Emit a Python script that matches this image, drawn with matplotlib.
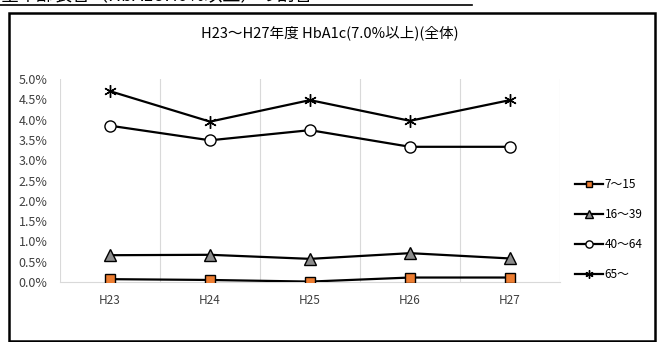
import numpy as np
import matplotlib.pyplot as plt
from matplotlib.patches import Rectangle
from matplotlib.ticker import PercentFormatter

plt.rcParams['font.family'] = ['Noto Sans CJK JP', 'DejaVu Sans']

# HbA1c 7.0%以上の割合（年齢階級別）
years = ["H23", "H24", "H25", "H26", "H27"]
age_7_15 = [0.0007, 0.0005, 0.0001, 0.0011, 0.0011]
age_16_39 = [0.0066, 0.0067, 0.0057, 0.0071, 0.0058]
age_40_64 = [0.0385, 0.0349, 0.0374, 0.0333, 0.0333]
age_65 = [0.0470, 0.0395, 0.0448, 0.0397, 0.0448]

title = "H23～H27年度 HbA1c(7.0%以上)(全体)"
heading = "全年齢表合（HbA1c7.0%以上）の割合"

fig = plt.figure(figsize=(6.65, 3.42), dpi=100)

# heading above the chart box, cut off by the top edge
fig.text(0.0, 1.012, heading, fontsize=13, ha='left', va='center', color='black')
fig.add_artist(plt.Line2D([0, 0.71], [0.984, 0.984], transform=fig.transFigure,
                          color='black', lw=1.2))

# chart box
fig.add_artist(Rectangle((9 / 665, 1 / 342), 646 / 665, 328 / 342,
                         transform=fig.transFigure, fill=False,
                         edgecolor='black', lw=1.8))

fig.text(330 / 665, 1 - 33 / 342, title, fontsize=10.5, ha='center', va='center')

ax = fig.add_axes([60 / 665, 1 - 282 / 342, 500 / 665, 203 / 342])
x = np.arange(len(years))

ax.plot(x, age_7_15, color='black', lw=1.6, marker='s', markersize=7,
        markerfacecolor='#ED7D31', markeredgecolor='black', markeredgewidth=1.0,
        label='7～15', zorder=5)
ax.plot(x, age_16_39, color='black', lw=1.6, marker='^', markersize=8,
        markerfacecolor='#8C8C8C', markeredgecolor='black', markeredgewidth=1.0,
        label='16～39', zorder=5)
ax.plot(x, age_40_64, color='black', lw=1.6, marker='o', markersize=8,
        markerfacecolor='white', markeredgecolor='black', markeredgewidth=1.0,
        label='40～64', zorder=5)
ax.plot(x, age_65, color='black', lw=1.6, marker=(6, 2, 0), markersize=9,
        markeredgecolor='black', markeredgewidth=1.0,
        label='65～', zorder=5)

ax.set_xlim(-0.5, len(years) - 0.5)
ax.set_ylim(0, 0.05)
ax.set_yticks(np.arange(0, 0.0501, 0.005))
ax.yaxis.set_major_formatter(PercentFormatter(1.0, decimals=1))
ax.set_xticks(x)
ax.set_xticklabels(years)

for b in np.arange(-0.5, len(years), 1.0):
    ax.axvline(b, color='#D9D9D9', lw=0.8, zorder=1)

for s in ['top', 'left', 'right']:
    ax.spines[s].set_visible(False)
ax.spines['bottom'].set_color('#D9D9D9')
ax.spines['bottom'].set_linewidth(0.8)

ax.tick_params(axis='both', length=0)
ax.tick_params(axis='y', labelsize=9, colors='#404040', pad=9)
ax.tick_params(axis='x', labelsize=8.5, colors='#404040', pad=9)

ax.legend(loc='center left', bbox_to_anchor=(1.03, 0.259), frameon=False,
          fontsize=8.5, handlelength=2.4, handletextpad=0.1, labelspacing=1.45,
          markerscale=0.65, borderaxespad=0, borderpad=0)

fig.savefig('out.png', dpi=100)
